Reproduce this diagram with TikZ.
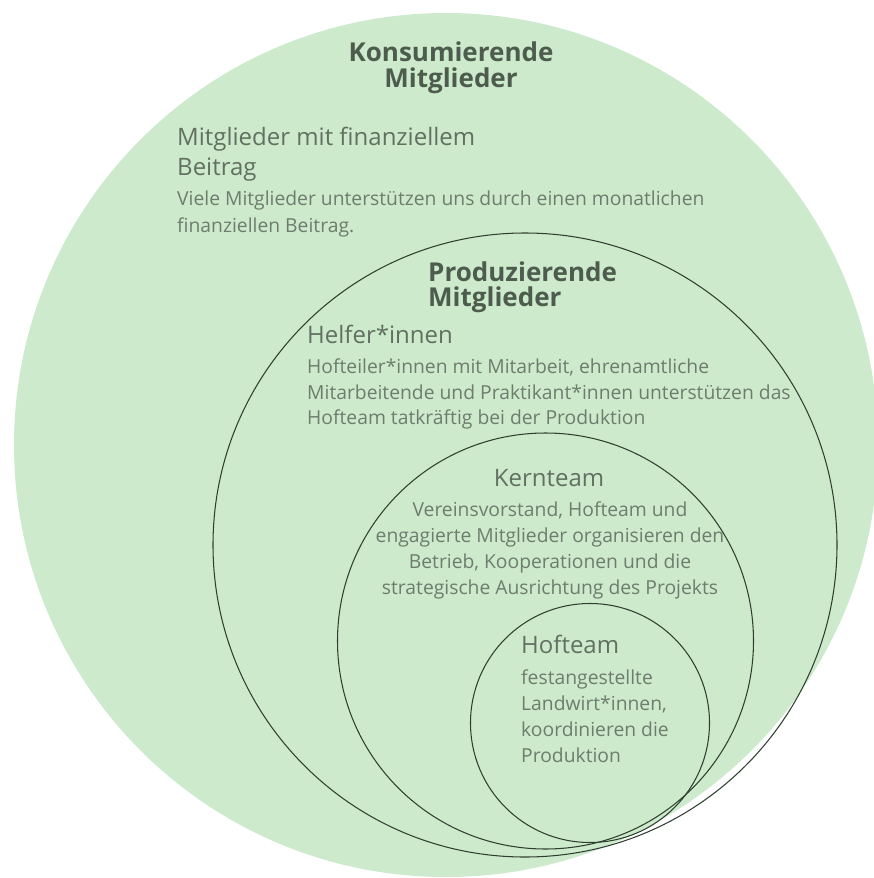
\documentclass[tikz,border=0pt]{standalone}
\usepackage{fontspec}
\setmainfont{Open Sans}
\definecolor{discfill}{HTML}{CDEACD}
\definecolor{ringline}{HTML}{2F3F2F}
\definecolor{titletext}{HTML}{4E5C4E}
\definecolor{headtext}{HTML}{627062}
\definecolor{bodytext}{HTML}{6E7C6E}
\tikzset{
  disc/.style={circle, fill=discfill, draw=none, inner sep=0pt},
  ring/.style={circle, draw=ringline, line width=1.05pt, inner sep=0pt},
  title/.style={inner sep=0pt, text=titletext, font=\fontsize{26}{25.5}\selectfont\bfseries},
  head/.style={inner sep=0pt, text=headtext, font=\fontsize{24}{30}\selectfont},
  body/.style={inner sep=0pt, text=bodytext, font=\fontsize{19.3}{26}\selectfont},
}
\begin{document}
\begin{tikzpicture}[x=1pt,y=-1pt]
\useasboundingbox (0,0) rectangle (874,878);

% membership circles
\node[disc, minimum size=864pt] (konsum) at (446,445) {};
\node[ring, minimum size=624pt] (prod) at (525,545) {};
\node[ring, minimum size=416pt] (kern) at (545.5,641) {};
\node[ring, minimum size=239pt] (hof) at (590,723) {};

% consuming members (anchors sit on the last line's baseline)
\node[title, anchor=base, align=center] (konsumtitle) at (451,87) {Konsumierende\\Mitglieder};
\node[head, anchor=base west, align=left] (beitraghead) at (177,175.6) {Mitglieder mit finanziellem\\Beitrag};
\node[body, anchor=base west, align=left, font=\fontsize{19.3}{27}\selectfont] (beitragbody) at (177,232.5) {Viele Mitglieder unterstützen uns durch einen monatlichen\\finanziellen Beitrag.};

% producing members
\node[title, anchor=base west, align=left] (prodtitle) at (428,306.6) {Produzierende\\Mitglieder};
\node[head, anchor=base west] (helferhead) at (307,343) {Helfer*innen};
\node[body, anchor=base west, align=left, font=\fontsize{19.3}{25.6}\selectfont] (helferbody) at (307,424.7) {Hofteiler*innen mit Mitarbeit, ehrenamtliche\\Mitarbeitende und Praktikant*innen unterstützen das\\Hofteam tatkräftig bei der Produktion};

% core team
\node[head, anchor=base] (kernhead) at (549,486.6) {Kernteam};
\node[body, anchor=base, align=center] (kernbody) at (550,594.8) {Vereinsvorstand, Hofteam und\\engagierte Mitglieder organisieren den\\Betrieb, Kooperationen und die\\strategische Ausrichtung des Projekts};

% farm team
\node[head, anchor=base west] (hofhead) at (521,653.3) {Hofteam};
\node[body, anchor=base west, align=left, font=\fontsize{19.3}{25.8}\selectfont] (hofbody) at (521,762) {festangestellte\\Landwirt*innen,\\koordinieren die\\Produktion};
\end{tikzpicture}
\end{document}
